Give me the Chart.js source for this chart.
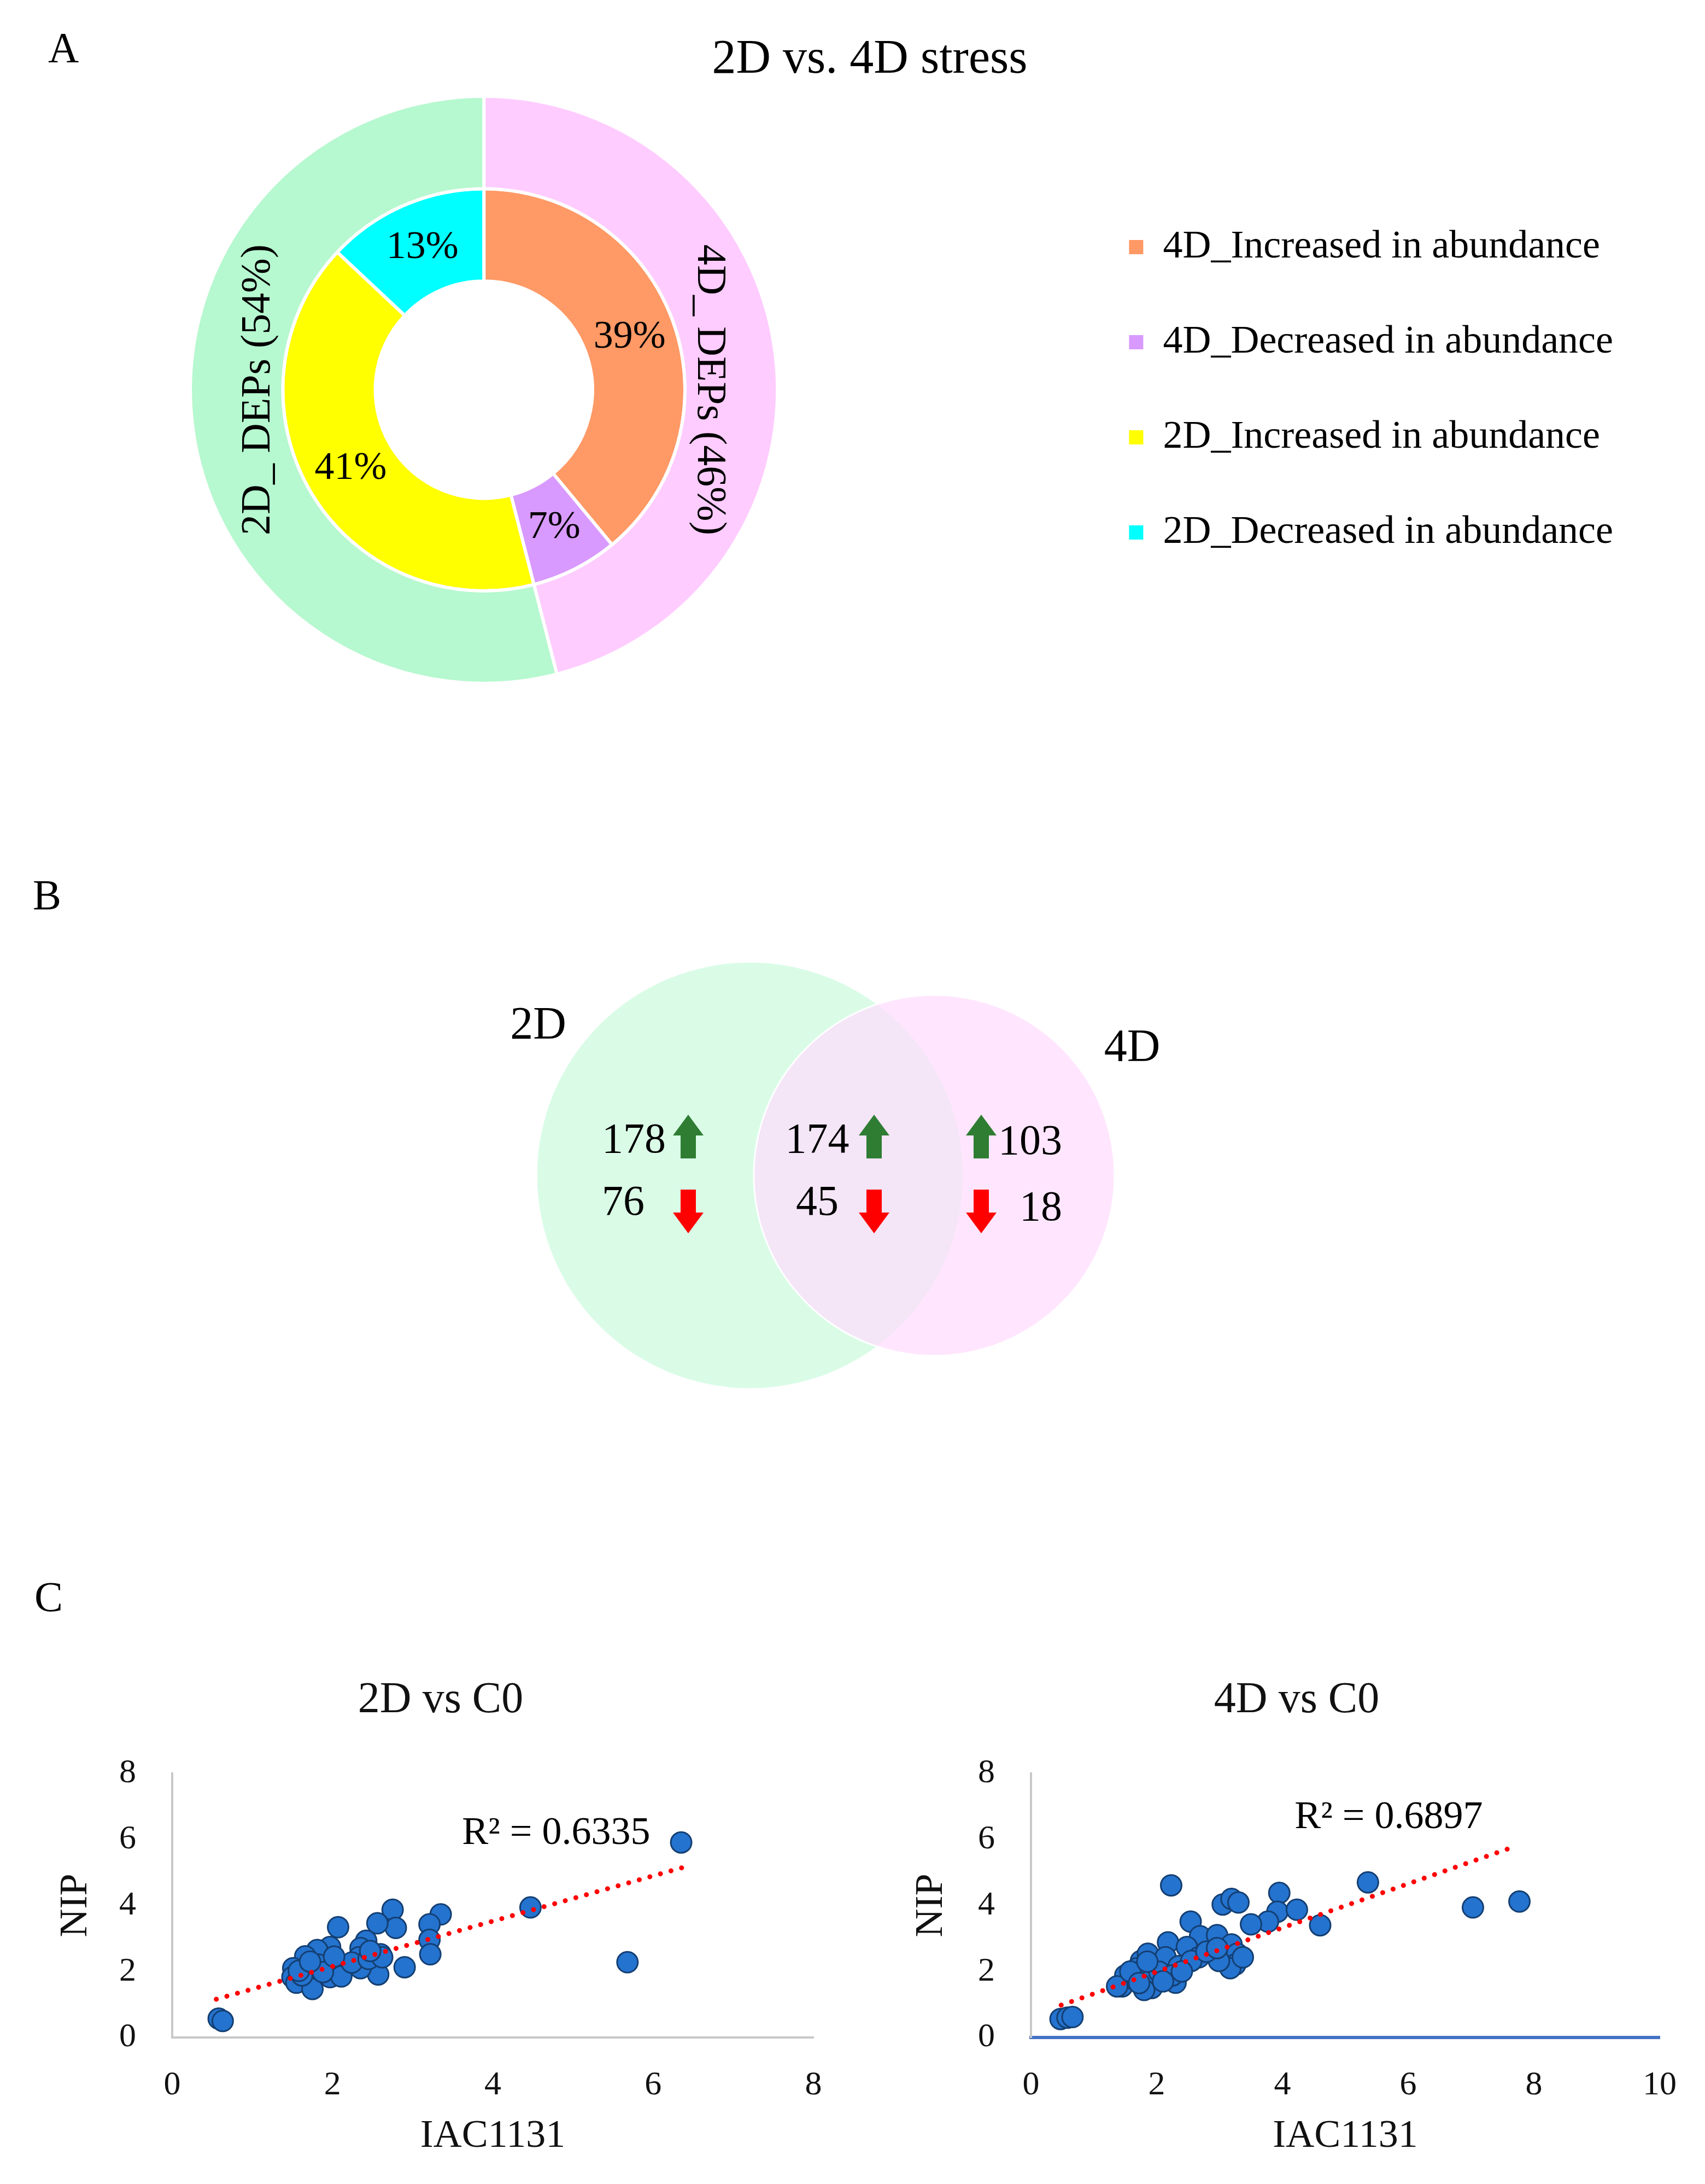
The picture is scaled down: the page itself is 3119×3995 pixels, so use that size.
<!DOCTYPE html>
<html>
<head>
<meta charset="utf-8">
<script src="https://cdn.jsdelivr.net/npm/chart.js@4.4.0/dist/chart.umd.min.js"></script>
<style>
  html, body { margin: 0; padding: 0; background: #fff; }
  body { width: 3119px; height: 3995px; position: relative; overflow: hidden; }
  canvas { position: absolute; }
  .panel { position: absolute; font-family: 'Liberation Serif', 'Times New Roman', serif; font-size: 78px; line-height: 1; color: #000; }
</style>
</head>
<body>
<div class="panel" style="left:88px;top:48px">A</div>
<div class="panel" style="left:60px;top:1598px">B</div>
<div class="panel" style="left:63px;top:2882px">C</div>

<canvas id="donut" width="3568" height="1260" style="left:-193px;top:0"></canvas>
<canvas id="venn" width="2011" height="1200" style="left:535px;top:1550px"></canvas>
<canvas id="sc2d" width="1612" height="995" style="left:0;top:3000px"></canvas>
<canvas id="sc4d" width="1489" height="995" style="left:1630px;top:3000px"></canvas>

<script>
const SERIF = "'Liberation Serif', 'Times New Roman', serif";
Chart.defaults.font.family = SERIF;
Chart.defaults.color = '#000';
Chart.defaults.animation = false;

// ---- A: doughnut ----
const donutTitle = '2D vs. 4D stress';
const donutLabels = ['4D_Increased in abundance', '4D_Decreased in abundance', '2D_Increased in abundance', '2D_Decreased in abundance'];
const donutInner = [39, 7, 41, 13];
const deps = ['4D_ DEPs', '2D_ DEPs'];
const depsShare = [46, 54];

const innerColors = ['#FF9966', '#D99AFF', '#FFFF00', '#00FFFF'];
const outerColors = ['#FFCCFF', '#B6F8CF'];

// ---- B: venn counts (2D only, shared, 4D only) ----
const vennSets = ['2D', '4D'];
const vennUp = [178, 174, 103];
const vennDown = [76, 45, 18];

// ---- C: scatter, IAC1131 (x) vs NIP (y) ----
const axisTicks = [0, 2, 4, 6, 8, 10];

const x2d = [0.58, 0.63, 2.75, 2.79, 2.56, 2.07, 3.35, 3.21, 3.21, 3.22, 2.90, 2.57, 2.60, 2.42, 2.35, 2.33, 2.35, 1.97, 1.81, 1.66, 1.51, 1.50, 1.55, 1.75, 1.97, 2.10, 1.82, 1.69, 2.11, 1.62, 2.24, 2.45, 2.62, 1.58, 1.88, 2.02, 1.72, 2.47, 4.47, 5.68, 6.35];
const y2d = [0.57, 0.50, 3.87, 3.32, 3.46, 3.34, 3.73, 3.43, 2.96, 2.52, 2.13, 1.91, 2.52, 2.93, 2.71, 2.43, 2.10, 2.74, 2.65, 2.46, 2.10, 1.83, 1.66, 1.47, 1.83, 2.16, 2.21, 2.10, 1.85, 1.88, 2.27, 2.38, 2.43, 2.02, 1.98, 2.45, 2.30, 2.62, 3.94, 2.28, 5.91];
const trend2dX = [0.55, 6.37];
const trend2dY = [1.16, 5.15];

const x4d = [0.47, 0.58, 0.66, 2.23, 3.05, 3.19, 3.30, 3.95, 3.92, 4.23, 3.77, 3.50, 4.60, 2.54, 2.69, 2.96, 3.19, 3.28, 3.25, 3.17, 2.99, 2.18, 2.48, 2.67, 2.30, 1.92, 1.45, 1.50, 1.75, 1.86, 1.69, 2.01, 2.14, 2.35, 2.55, 2.79, 1.95, 1.63, 1.37, 1.80, 2.04, 2.25, 2.96, 3.37, 1.58, 1.72, 1.85, 2.40, 2.10, 5.36, 7.03, 7.77];
const y4d = [0.56, 0.60, 0.62, 4.61, 4.03, 4.20, 4.09, 4.38, 3.81, 3.87, 3.51, 3.43, 3.40, 3.51, 3.07, 3.10, 2.82, 2.54, 2.21, 2.10, 2.32, 2.88, 2.74, 2.43, 1.66, 1.50, 1.55, 1.88, 2.32, 2.54, 2.10, 2.21, 2.43, 2.16, 2.32, 2.60, 1.88, 1.77, 1.55, 1.44, 1.99, 1.88, 2.71, 2.43, 2.00, 1.65, 2.30, 2.00, 1.70, 4.70, 3.94, 4.12];
const trend4dX = [0.48, 7.73];
const trend4dY = [0.98, 5.81];

// ---------- A ----------
const donutText = {
  id: 'donutText',
  afterDatasetsDraw(chart) {
    const ctx = chart.ctx;
    ctx.save();
    ctx.fillStyle = '#000';
    ctx.textAlign = 'center';
    ctx.textBaseline = 'middle';
    // title centred over the whole figure, not just the pie + legend
    ctx.font = `88px ${SERIF}`;
    ctx.fillText(donutTitle, chart.width / 2, 110);

    ctx.font = `72px ${SERIF}`;
    chart.getDatasetMeta(1).data.forEach((arc, i) => {
      const p = arc.tooltipPosition();
      ctx.fillText(donutInner[i] + '%', p.x, p.y);
    });
    // outer ring names, written up/down the ring
    ctx.font = `76px ${SERIF}`;
    chart.getDatasetMeta(0).data.forEach((arc, i) => {
      const a = arc.getProps(['x', 'y', 'innerRadius', 'outerRadius', 'startAngle', 'endAngle']);
      const right = Math.cos((a.startAngle + a.endAngle) / 2) > 0;
      const r = a.innerRadius + (a.outerRadius - a.innerRadius) * 0.26;
      ctx.save();
      ctx.translate(a.x + (right ? r : -r), a.y);
      ctx.rotate(right ? Math.PI / 2 : -Math.PI / 2);
      ctx.fillText(`${deps[i]} (${depsShare[i]}%)`, 0, 0);
      ctx.restore();
    });
    ctx.restore();
  }
};

new Chart(document.getElementById('donut'), {
  type: 'doughnut',
  data: {
    labels: donutLabels,
    datasets: [
      { data: depsShare, backgroundColor: outerColors, borderColor: '#fff', borderWidth: 6 },
      { data: donutInner, backgroundColor: innerColors, borderColor: '#fff', borderWidth: 6 }
    ]
  },
  options: {
    responsive: false,
    devicePixelRatio: 1,
    cutout: '37%',
    layout: { padding: { top: 173, bottom: 7, left: 0, right: 414 } },
    plugins: {
      title: { display: false },
      legend: {
        position: 'right',
        labels: {
          font: { family: SERIF, size: 72 },
          boxWidth: 26,
          boxHeight: 26,
          padding: 102,
          generateLabels: (chart) => chart.data.labels.map((t, i) => ({
            text: t, fillStyle: innerColors[i], strokeStyle: innerColors[i],
            lineWidth: 0, hidden: false, index: i, fontColor: '#000'
          }))
        }
      },
      tooltip: { enabled: false }
    }
  },
  plugins: [donutText]
});

// ---------- B ----------
const setTotal = [vennUp[0] + vennUp[1] + vennDown[0] + vennDown[1], vennUp[1] + vennUp[2] + vennDown[1] + vennDown[2]];

function drawArrow(ctx, cx, cy, up, color) {
  const w = 56, h = 80, head = 38, shaft = 28;
  const s = up ? -1 : 1;
  const tip = cy + s * h / 2, base = tip - s * head, tail = cy - s * h / 2;
  ctx.fillStyle = color;
  ctx.beginPath();
  ctx.moveTo(cx, tip);
  ctx.lineTo(cx + w / 2, base);
  ctx.lineTo(cx + shaft / 2, base);
  ctx.lineTo(cx + shaft / 2, tail);
  ctx.lineTo(cx - shaft / 2, tail);
  ctx.lineTo(cx - shaft / 2, base);
  ctx.lineTo(cx - w / 2, base);
  ctx.closePath();
  ctx.fill();
}

const vennText = {
  id: 'vennText',
  afterDatasetsDraw(chart) {
    const ctx = chart.ctx;
    const [a, b] = chart.getDatasetMeta(0).data;
    const ra = a.options.radius, rb = b.options.radius;
    const upY = a.y - 62, downY = a.y + 52;
    const arUp = a.y - 71, arDown = a.y + 66;
    const green = '#2E7D32', red = '#FF0000';
    ctx.save();
    ctx.fillStyle = '#000';
    ctx.textBaseline = 'middle';
    ctx.font = `84px ${SERIF}`;
    ctx.textAlign = 'center';
    ctx.fillText(vennSets[0], a.x - ra + 2, a.y - 0.7 * ra);
    ctx.fillText(vennSets[1], b.x + rb + 32, b.y - 0.7 * rb);

    ctx.font = `78px ${SERIF}`;
    // 2D only
    ctx.textAlign = 'left';
    ctx.fillText(vennUp[0], a.x - 271, upY);
    ctx.fillText(vennDown[0], a.x - 271, downY);
    // shared
    ctx.textAlign = 'center';
    ctx.fillText(vennUp[1], b.x - 214, upY);
    ctx.fillText(vennDown[1], b.x - 214, downY);
    // 4D only
    ctx.textAlign = 'right';
    ctx.fillText(vennUp[2], b.x + 234, upY + 3);
    ctx.fillText(vennDown[2], b.x + 234, downY + 10);

    drawArrow(ctx, a.x - 113, arUp, true, green);
    drawArrow(ctx, a.x - 113, arDown, false, red);
    drawArrow(ctx, b.x - 110, arUp, true, green);
    drawArrow(ctx, b.x - 110, arDown, false, red);
    drawArrow(ctx, b.x + 86, arUp, true, green);
    drawArrow(ctx, b.x + 86, arDown, false, red);
    ctx.restore();
  }
};

new Chart(document.getElementById('venn'), {
  type: 'bubble',
  data: {
    datasets: [{
      data: vennSets.map((s, i) => ({ x: i, y: 0, r: Math.sqrt(setTotal[i]) * 17.9 })),
      backgroundColor: ['rgba(182,250,207,0.5)', 'rgba(255,220,254,0.71)'],
      borderColor: ['rgba(255,255,255,0)', '#ffffff'],
      borderWidth: [0, 3],
      clip: false
    }]
  },
  options: {
    responsive: false,
    devicePixelRatio: 1,
    layout: { padding: { left: 500, right: 500, top: 0, bottom: 0 } },
    scales: {
      x: { type: 'linear', min: -1, max: 2, display: false },
      y: { type: 'linear', min: -1, max: 1, display: false }
    },
    plugins: { legend: { display: false }, tooltip: { enabled: false } }
  },
  plugins: [vennText]
});

// ---------- C ----------
function makeScatter(id, cfg) {
  const r2Label = {
    id: 'r2Label',
    afterDatasetsDraw(chart) {
      const { ctx, scales } = chart;
      ctx.save();
      ctx.fillStyle = '#000';
      ctx.font = `72px ${SERIF}`;
      ctx.textAlign = 'center';
      ctx.textBaseline = 'middle';
      ctx.fillText(cfg.r2, scales.x.getPixelForValue(cfg.r2At[0]), scales.y.getPixelForValue(cfg.r2At[1]));
      ctx.restore();
    }
  };
  return new Chart(document.getElementById(id), {
    type: 'scatter',
    data: {
      datasets: [
        {
          data: cfg.tx.map((x, i) => ({ x, y: cfg.ty[i] })),
          showLine: true,
          pointRadius: 0,
          borderColor: '#FF0000',
          borderWidth: 9,
          borderDash: [0.1, 20],
          borderCapStyle: 'round'
        },
        {
          data: cfg.x.map((x, i) => ({ x, y: cfg.y[i] })),
          pointRadius: 19,
          pointBackgroundColor: '#2473CF',
          pointBorderColor: '#143F72',
          pointBorderWidth: 3
        }
      ]
    },
    options: {
      responsive: false,
      devicePixelRatio: 1,
      layout: { padding: cfg.padding },
      scales: {
        x: {
          type: 'linear', min: 0, max: cfg.xMax,
          afterBuildTicks: (s) => { s.ticks = axisTicks.filter(v => v <= cfg.xMax).map(v => ({ value: v })); },
          grid: { display: false },
          border: { display: true, color: cfg.xBorder, width: cfg.xBorderWidth },
          ticks: { padding: 43, color: '#111', font: { family: SERIF, size: 62 } },
          title: { display: true, text: 'IAC1131', color: '#111', font: { family: SERIF, size: 72 }, padding: { top: 0, bottom: 24 } },
          afterFit: (s) => { s.height = 248; }
        },
        y: {
          type: 'linear', min: 0, max: 8,
          afterBuildTicks: (s) => { s.ticks = axisTicks.filter(v => v <= 8).map(v => ({ value: v })); },
          grid: { display: false },
          border: { display: true, color: '#C8C8C8', width: 4 },
          ticks: { padding: 58, color: '#111', font: { family: SERIF, size: 62 } },
          title: { display: true, text: 'NIP', color: '#111', font: { family: SERIF, size: 72 }, padding: { top: cfg.yTitlePad, bottom: 0 } },
          afterFit: (s) => { s.width = cfg.yWidth; }
        }
      },
      plugins: {
        legend: { display: false },
        tooltip: { enabled: false },
        title: {
          display: true, text: cfg.title, color: '#111',
          font: { family: SERIF, size: 80, weight: 'normal' },
          padding: { top: 63, bottom: 85 }
        }
      }
    },
    plugins: [r2Label]
  });
}

makeScatter('sc2d', {
  title: '2D vs C0', x: x2d, y: y2d, tx: trend2dX, ty: trend2dY, xMax: 8,
  r2: 'R² = 0.6335', r2At: [4.79, 6.18],
  padding: { left: 124, right: 124, top: 0, bottom: 20 }, yWidth: 191, yTitlePad: -28,
  xBorder: '#C8C8C8', xBorderWidth: 4
});

makeScatter('sc4d', {
  title: '4D vs C0', x: x4d, y: y4d, tx: trend4dX, ty: trend4dY, xMax: 10,
  r2: 'R² = 0.6897', r2At: [5.69, 6.66],
  padding: { left: 78, right: 83, top: 0, bottom: 20 }, yWidth: 178, yTitlePad: -47,
  xBorder: '#4472C4', xBorderWidth: 6
});
</script>
</body>
</html>
